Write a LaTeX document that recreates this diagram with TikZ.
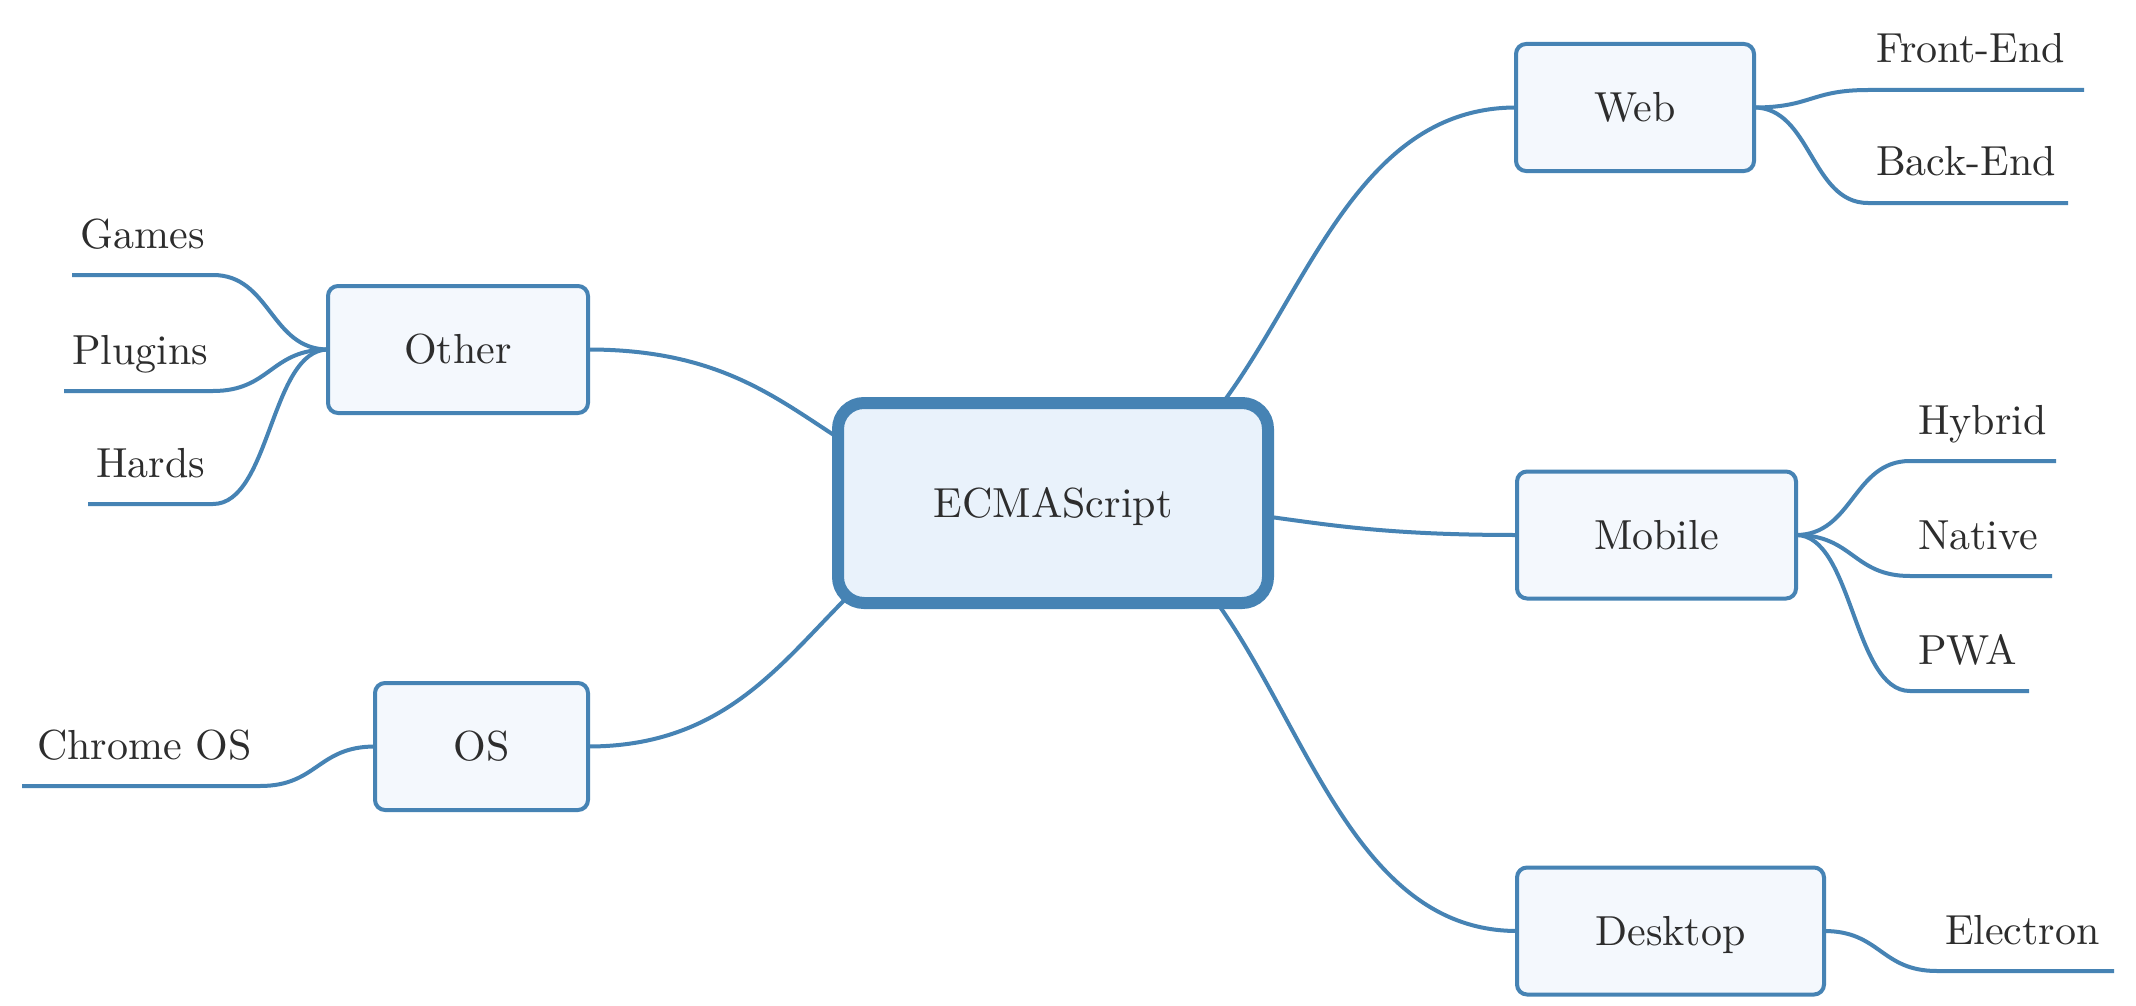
\documentclass[tikz,border=0pt]{standalone}
\usepackage{fontspec}
\setmainfont{lmroman10-regular.otf}
\usetikzlibrary{calc,backgrounds}
\definecolor{lineblue}{RGB}{70,131,180}
\definecolor{childfill}{RGB}{244,248,253}
\definecolor{rootfill}{RGB}{233,242,251}
\definecolor{textcol}{RGB}{45,45,45}
\begin{document}
\begin{tikzpicture}[x=0.5pt,y=-0.5pt,
  lbl/.style={font={\fontsize{21}{25}\selectfont\hyphenpenalty=10000\exhyphenpenalty=10000}, text=textcol},
  rootbox/.style={lbl, draw=lineblue, line width=6pt, fill=rootfill, rounded corners=13pt,
    minimum width=215pt, minimum height=100pt, inner sep=0pt, outer sep=0pt,
    text height=14.3pt, text depth=0pt},
  branchbox/.style={lbl, draw=lineblue, line width=2pt, fill=childfill, rounded corners=5pt,
    minimum height=63.5pt, inner sep=0pt, outer sep=0pt, text height=14.3pt, text depth=0pt},
  leafR/.style={lbl, anchor=south west, inner xsep=4pt, inner ysep=13.5pt, outer sep=0pt,
    text depth=0pt, text width=#1, align=left},
  leafL/.style={lbl, anchor=south east, inner xsep=4pt, inner ysep=13.5pt, outer sep=0pt,
    text depth=0pt, text width=#1, align=right},
  conn/.style={draw=lineblue, line width=2pt},
  sconn/.style={to path={let \p1=(\tikztostart), \p2=(\tikztotarget) in
    .. controls ({(\x1+\x2)/2},\y1) and ({(\x1+\x2)/2},\y2) .. (\tikztotarget)}}
]
\useasboundingbox (0,0) rectangle (2136,1006);

% central topic
\node[rootbox] (ecma) at (1053,503) {ECMAScript};

% main branches
\node[branchbox, minimum width=119pt]   (web)     at (1635,107.5) {Web};
\node[branchbox, minimum width=139.5pt] (mobile)  at (1656.5,535) {Mobile};
\node[branchbox, minimum width=153.5pt] (desktop) at (1670.5,931) {Desktop};
\node[branchbox, minimum width=130pt]   (other)   at (458,349.5)  {Other};
\node[branchbox, minimum width=106.5pt] (os)      at (481.5,746.5) {OS};

% leaves
\node[leafR=100pt]  (front)    at (1868,90)  {Front-End};
\node[leafR=92pt]   (back)     at (1868,203) {Back-End};
\node[leafR=65pt]   (hybrid)   at (1910,461) {Hybrid};
\node[leafR=63pt]   (native)   at (1910,576) {Native};
\node[leafR=51.5pt] (pwa)      at (1910,691) {PWA};
\node[leafR=80.5pt] (electron) at (1937,971) {Electron};
\node[leafL=62.5pt] (games)    at (213,275)  {Games};
\node[leafL=66.5pt] (plugins)  at (213,391)  {Plugins};
\node[leafL=54.5pt] (hards)    at (213,504)  {Hards};
\node[leafL=111pt]  (chrome)   at (260,786)  {Chrome OS};

\begin{pgfonlayer}{background}
\fill[white] (0,0) rectangle (2136,1006);
% central connectors
\draw[conn] (ecma.center) to[sconn] (web.west);
\draw[conn] (ecma.center) to[sconn] (mobile.west);
\draw[conn] (ecma.center) to[sconn] (desktop.west);
\draw[conn] (ecma.center) to[sconn] (other.east);
\draw[conn] (ecma.center) to[sconn] (os.east);
% leaf connectors
\draw[conn] (web.east) to[sconn] (front.south west) -- (front.south east);
\draw[conn] (web.east) to[sconn] (back.south west) -- (back.south east);
\draw[conn] (mobile.east) to[sconn] (hybrid.south west) -- (hybrid.south east);
\draw[conn] (mobile.east) to[sconn] (native.south west) -- (native.south east);
\draw[conn] (mobile.east) to[sconn] (pwa.south west) -- (pwa.south east);
\draw[conn] (desktop.east) to[sconn] (electron.south west) -- (electron.south east);
\draw[conn] (other.west) to[sconn] (games.south east) -- (games.south west);
\draw[conn] (other.west) to[sconn] (plugins.south east) -- (plugins.south west);
\draw[conn] (other.west) to[sconn] (hards.south east) -- (hards.south west);
\draw[conn] (os.west) to[sconn] (chrome.south east) -- (chrome.south west);
\end{pgfonlayer}
\end{tikzpicture}
\end{document}
